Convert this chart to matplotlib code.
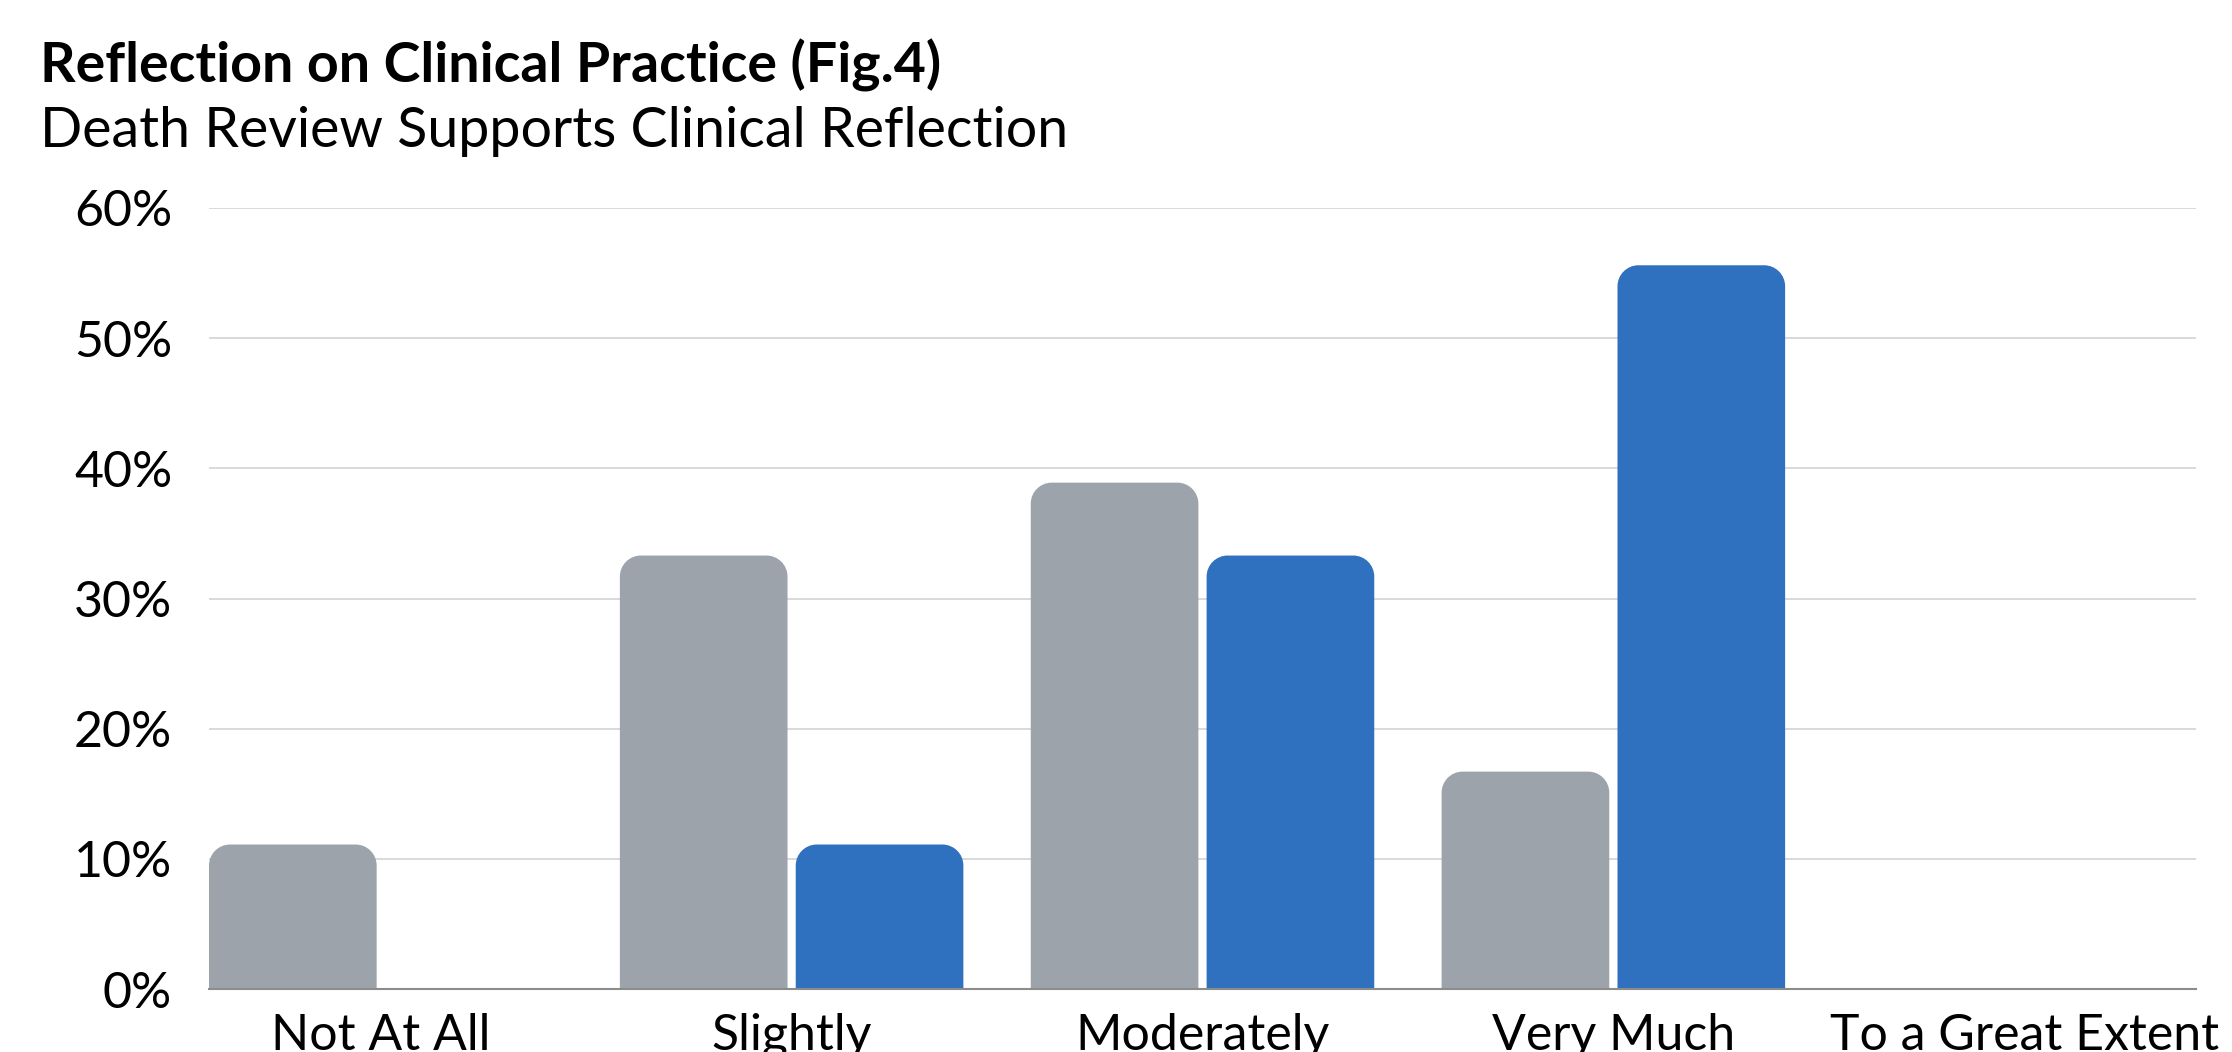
import matplotlib
matplotlib.use("Agg")
import matplotlib.pyplot as plt
from matplotlib.path import Path
from matplotlib.patches import PathPatch
from matplotlib.ticker import FuncFormatter
import numpy as np

plt.rcParams['font.family'] = ['Lato', 'DejaVu Sans']

categories = ["Not At All", "Slightly", "Moderately", "Very Much", "To a Great Extent"]
before_pct = [11.1, 33.3, 38.9, 16.7, 0.0]
after_pct = [0.0, 11.1, 33.3, 55.6, 0.0]
y_ticks = [0, 10, 20, 30, 40, 50, 60]

GRAY = "#9CA3AB"
BLUE = "#2F70BF"

W, H, DPI = 2232, 1052, 100
fig = plt.figure(figsize=(W / DPI, H / DPI), dpi=DPI)
ax = fig.add_axes([209 / W, 63 / H, 1987 / W, 781 / H])

x = np.arange(len(categories))
bw = 0.408
off = 0.214
ax.set_xlim(-0.418, len(categories) - 1 + 0.418)
ax.set_ylim(0, 60)

bars_a = ax.bar(x - off, before_pct, bw, color=GRAY)
bars_b = ax.bar(x + off, after_pct, bw, color=BLUE)


def rounded_top(rect, radius_px=21):
    """Replace a bar rectangle with a path whose top corners are rounded."""
    x0, y0 = rect.get_x(), rect.get_y()
    w, h = rect.get_width(), rect.get_height()
    if h <= 0:
        return None
    # convert pixel radius into data units
    p0 = ax.transData.transform((0, 0))
    p1 = ax.transData.transform((1, 1))
    rx = radius_px / (p1[0] - p0[0])
    ry = min(radius_px / (p1[1] - p0[1]), h)
    k = 0.5523
    x1, y1 = x0 + w, y0 + h
    verts = [
        (x0, y0),
        (x0, y1 - ry),
        (x0, y1 - ry + k * ry), (x0 + rx - k * rx, y1), (x0 + rx, y1),
        (x1 - rx, y1),
        (x1 - rx + k * rx, y1), (x1, y1 - ry + k * ry), (x1, y1 - ry),
        (x1, y0),
        (x0, y0),
    ]
    codes = [Path.MOVETO, Path.LINETO,
             Path.CURVE4, Path.CURVE4, Path.CURVE4,
             Path.LINETO,
             Path.CURVE4, Path.CURVE4, Path.CURVE4,
             Path.LINETO, Path.CLOSEPOLY]
    return PathPatch(Path(verts, codes), facecolor=rect.get_facecolor(),
                     edgecolor="none", zorder=3)


for container in (bars_a, bars_b):
    for rect in container:
        patch = rounded_top(rect)
        rect.set_visible(False)
        if patch is not None:
            ax.add_patch(patch)

ax.set_yticks(y_ticks)
ax.yaxis.set_major_formatter(FuncFormatter(lambda v, _: f"{v:.0f}%"))
ax.set_xticks(x)
ax.set_xticklabels(categories)
ax.grid(axis="y", color="#D3D3D3", linewidth=1.2, zorder=0)
ax.set_axisbelow(True)
for s in ("left", "right", "top"):
    ax.spines[s].set_visible(False)
ax.spines["bottom"].set_color("#8C8C8C")
ax.spines["bottom"].set_linewidth(1.5)
ax.spines["bottom"].set_zorder(4)
ax.tick_params(axis="both", length=0, labelsize=36, colors="black")
ax.tick_params(axis="y", pad=26.5)
ax.tick_params(axis="x", pad=17)

fig.text(40 / W, 1 - 82 / H, "Reflection on Clinical Practice (Fig.4)",
         fontsize=40, fontweight="bold", ha="left", va="baseline")
fig.text(40 / W, 1 - 147 / H, "Death Review Supports Clinical Reflection",
         fontsize=40, ha="left", va="baseline")

fig.savefig("out.png", dpi=DPI, facecolor="white")
